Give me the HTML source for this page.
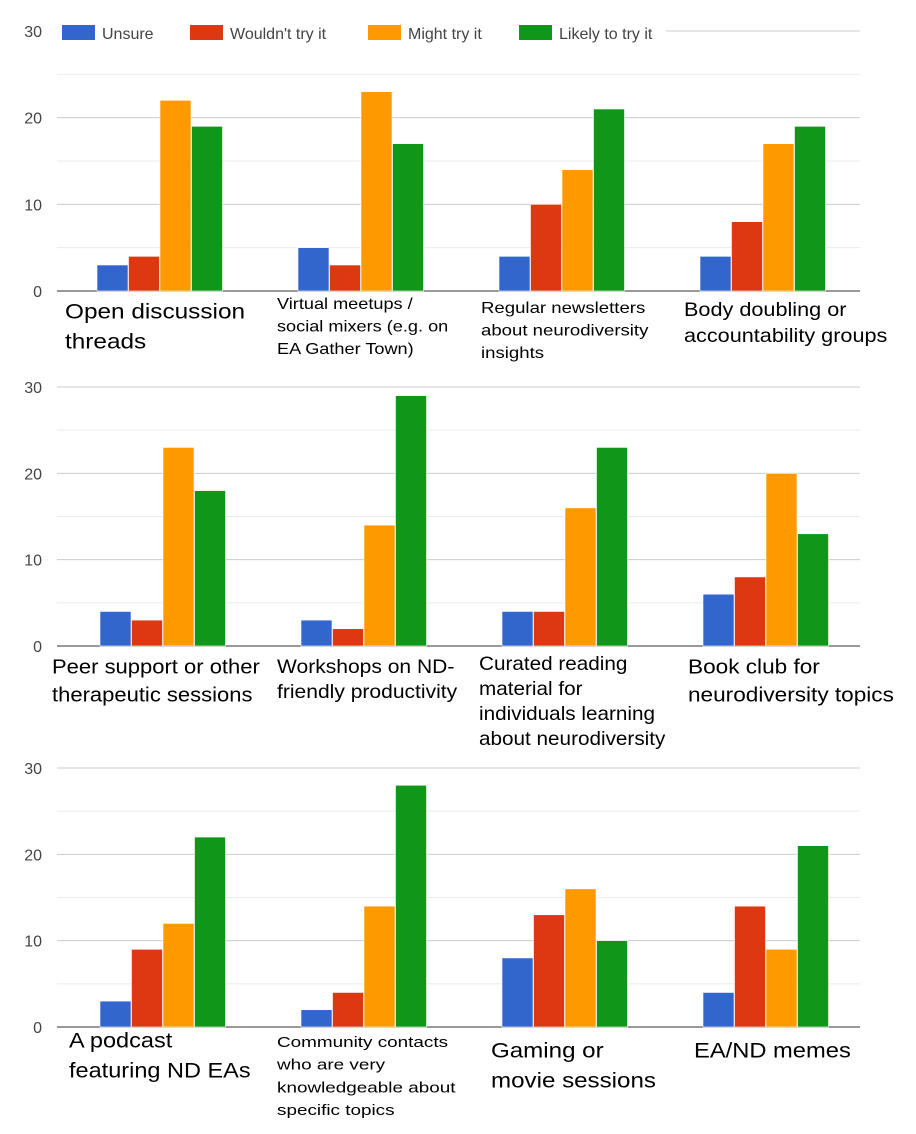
<!DOCTYPE html>
<html><head><meta charset="utf-8"><style>
html,body{margin:0;padding:0;background:#fff;}
svg{display:block;font-family:"Liberation Sans",sans-serif;}
</style></head><body>
<svg id="c" width="916" height="1134" viewBox="0 0 916 1134"></svg>
<script>
const seriesNames = ["Unsure","Wouldn't try it","Might try it","Likely to try it"];
const seriesColors = ["#3366cc","#dc3912","#ff9900","#109618"];
const yTicks = [0,10,20,30];
const panel1Values = [[3,4,22,19],[5,3,23,17],[4,10,14,21],[4,8,17,19]];
const panel2Values = [[4,3,23,18],[3,2,14,29],[4,4,16,23],[6,8,20,13]];
const panel3Values = [[3,9,12,22],[2,4,14,28],[8,13,16,10],[4,14,9,21]];
const panel1Labels = [["Open discussion","threads"],["Virtual meetups /","social mixers (e.g. on","EA Gather Town)"],["Regular newsletters","about neurodiversity","insights"],["Body doubling or","accountability groups"]];
const panel2Labels = [["Peer support or other","therapeutic sessions"],["Workshops on ND-","friendly productivity"],["Curated reading","material for","individuals learning","about neurodiversity"],["Book club for","neurodiversity topics"]];
const panel3Labels = [["A podcast","featuring ND EAs"],["Community contacts","who are very","knowledgeable about","specific topics"],["Gaming or","movie sessions"],["EA/ND memes"]];

const NS="http://www.w3.org/2000/svg";
const svg=document.getElementById('c');
function mk(tag,attrs,parent){const e=document.createElementNS(NS,tag);for(const k in attrs)e.setAttribute(k,attrs[k]);(parent||svg).appendChild(e);return e;}

const panels=[
 {vals:panel1Values,labels:panel1Labels,y0:291,y30:31,bx:97,
  lab:[{x:65,y:313,fs:21,lh:30,sx:1.16},{x:277,y:305,fs:15.5,lh:22.5,sx:1.17},{x:481,y:309,fs:15.5,lh:22.5,sx:1.2},{x:684,y:311,fs:19,lh:26,sx:1.14}]},
 {vals:panel2Values,labels:panel2Labels,y0:646,y30:387,bx:100,
  lab:[{x:52,y:668,fs:20,lh:28,sx:1.1},{x:277,y:668,fs:19.5,lh:25,sx:1.08},{x:479,y:665,fs:19,lh:25,sx:1.09},{x:688,y:668,fs:20,lh:28,sx:1.13}]},
 {vals:panel3Values,labels:panel3Labels,y0:1027,y30:768,bx:100,
  lab:[{x:69,y:1042,fs:21,lh:30,sx:1.12},{x:277,y:1043,fs:15,lh:22.7,sx:1.26},{x:491,y:1052,fs:21,lh:30,sx:1.15},{x:694,y:1052,fs:21,lh:30,sx:1.13}]}
];
const groupStep=201, barW=31, barStep=31.5;

panels.forEach((p,pi)=>{
  const g=mk('g',{});
  
  
  const y=v=>p.y0-(v/30)*(p.y0-p.y30);
  for(let v=5;v<30;v+=10){mk('line',{x1:57,x2:860,y1:y(v),y2:y(v),stroke:'#ebebeb','stroke-width':1},g);}
  yTicks.forEach(t=>{
    const l=mk('line',{x1:57,x2:860,y1:y(t),y2:y(t),stroke:t===0?'#333':'#cccccc','stroke-width':1},g);
    
    
    const tx=mk('text',{x:42,y:y(t)+6,'text-anchor':'end','font-size':16,fill:'#444'},g);
    tx.textContent=t;
    
    
  });
  p.vals.forEach((grp,gi)=>{
    grp.forEach((v,si)=>{
      const x=p.bx+gi*groupStep+si*barStep;
      const r=mk('rect',{x:x,y:y(v),width:barW,height:y(0)-y(v),fill:seriesColors[si],stroke:'#ffffff','stroke-width':0.6},g);
      
      
    });
    const L=p.lab[gi];
    p.labels[gi].forEach((line,li)=>{
      const t=mk('text',{x:0,y:0,transform:'translate('+L.x+','+(L.y+li*L.lh)+') scale('+L.sx+',1)','font-size':L.fs,fill:'#000','dominant-baseline':'middle'},g);
      t.textContent=line;
      
      
    });
  });
});

const legX=[62,190,368,519];
const lg=mk('g',{});


mk('rect',{x:56,y:20,width:610,height:26,fill:'#fff'},lg);
seriesNames.forEach((n,i)=>{
  const r=mk('rect',{x:legX[i],y:25,width:33,height:15,fill:seriesColors[i]},lg);
  
  
  const t=mk('text',{x:legX[i]+40,y:39,'font-size':16,fill:'#444'},lg);
  t.textContent=n;
  
  
});
</script>
</body></html>
